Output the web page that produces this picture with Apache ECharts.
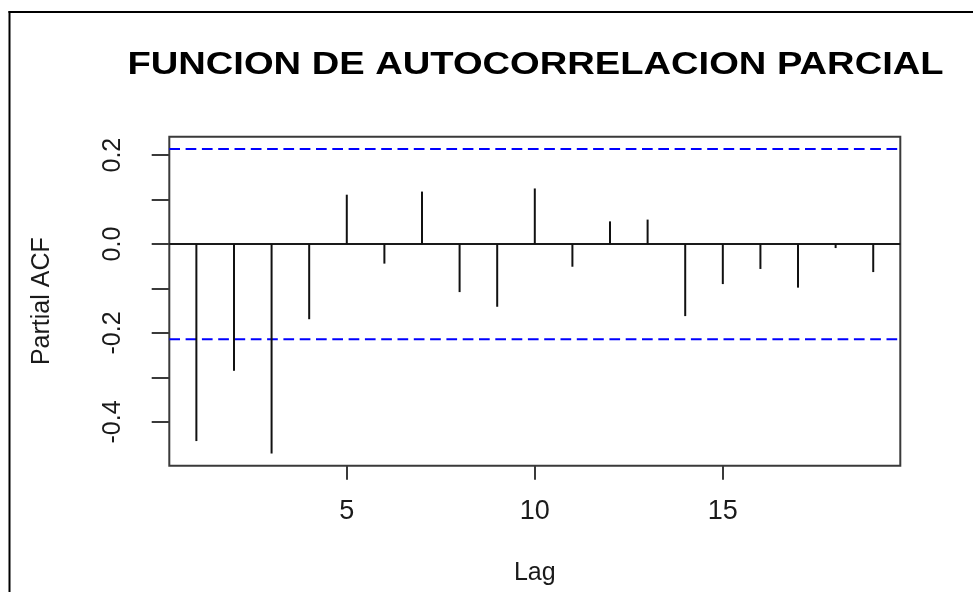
<!DOCTYPE html>
<html>
<head>
<meta charset="utf-8">
<script src="https://cdn.jsdelivr.net/npm/echarts@6/dist/echarts.min.js"></script>
<style>
html,body{margin:0;padding:0;background:#fff;}
#chart{width:973px;height:592px;}
</style>
</head>
<body>
<div id="chart"></div>
<script>
// ---- data ----
const titleText = 'FUNCION DE AUTOCORRELACION PARCIAL';
const xAxisTitle = 'Lag';
const yAxisTitle = 'Partial ACF';
const lags = [1,2,3,4,5,6,7,8,9,10,11,12,13,14,15,16,17,18,19];
const pacfValues = [-0.443,-0.285,-0.471,-0.169,0.111,-0.044,0.118,-0.108,-0.141,0.125,
                    -0.051,0.051,0.055,-0.162,-0.090,-0.056,-0.098,-0.009,-0.063];
const confLimit = 0.214;
const xTickValues = [5,10,15];
const yTickValues = [-0.4,-0.3,-0.2,-0.1,0,0.1,0.2];
const yLabelValues = [-0.4,-0.2,0,0.2];

// R-style axis ranges (data range extended by 4%)
const xLo = Math.min(...lags), xHi = Math.max(...lags);
const xMin = xLo - 0.04*(xHi-xLo), xMax = xHi + 0.04*(xHi-xLo);
const yLo = Math.min(-confLimit, ...pacfValues), yHi = Math.max(confLimit, ...pacfValues);
const yMin = yLo - 0.04*(yHi-yLo), yMax = yHi + 0.04*(yHi-yLo);

const spikeData = lags.map((l,i)=>[l, pacfValues[i]]);
const txt = '#1a1a1a';
const fam = 'Liberation Sans, Arial, sans-serif';

const chart = echarts.init(document.getElementById('chart'), null, {renderer:'canvas'});
chart.setOption({
  animation:false,
  backgroundColor:'#fff',
  graphic:[
    {type:'line', shape:{x1:9.5,y1:11,x2:9.5,y2:592}, style:{stroke:'#000',lineWidth:2}},
    {type:'line', shape:{x1:8.5,y1:12,x2:973,y2:12}, style:{stroke:'#000',lineWidth:2}},
    {type:'text', x:535.5, y:66, scaleX:1.25, scaleY:1,
     style:{text:titleText, fontSize:30.5, fontWeight:'bold', fontFamily:fam, fill:'#000',
            textAlign:'center', textVerticalAlign:'middle'}}
  ],
  grid:{left:169.3, right:72.7, top:136.7, bottom:126.3, show:true,
        borderColor:'#3a3a3a', borderWidth:2, containLabel:false},
  xAxis:{
    type:'value', min:xMin, max:xMax,
    name:xAxisTitle, nameLocation:'middle', nameGap:95,
    nameTextStyle:{fontSize:25, color:txt, fontFamily:fam},
    axisLine:{show:false, onZero:false},
    axisTick:{show:true, length:14, customValues:xTickValues, lineStyle:{color:'#3a3a3a', width:2}},
    axisLabel:{show:true, customValues:xTickValues, margin:32, fontSize:27, color:txt, fontFamily:fam},
    splitLine:{show:false}
  },
  yAxis:{
    type:'value', min:yMin, max:yMax,
    name:yAxisTitle, nameLocation:'middle', nameGap:115, nameRotate:90,
    nameTextStyle:{fontSize:25, color:txt, fontFamily:fam},
    axisLine:{show:false, onZero:false},
    axisTick:{show:true, length:17.6, customValues:yTickValues, lineStyle:{color:'#3a3a3a', width:2}},
    axisLabel:{show:true, customValues:yLabelValues, rotate:90, margin:44, fontSize:25, color:txt, fontFamily:fam,
               formatter:v=>{const r=Math.round(v*10)/10; return (r===0?0:r).toFixed(1);}},
    splitLine:{show:false}
  },
  series:[
    {type:'line', data:[[xMin,0],[xMax,0]], showSymbol:false, symbol:'none', silent:true,
     lineStyle:{color:'#1a1a1a', width:2}, z:3},
    {type:'line', data:[[xMin,confLimit],[xMax,confLimit]], showSymbol:false, symbol:'none', silent:true,
     lineStyle:{color:'#0000ff', width:2, type:[10.7,5.6]}, z:3},
    {type:'line', data:[[xMin,-confLimit],[xMax,-confLimit]], showSymbol:false, symbol:'none', silent:true,
     lineStyle:{color:'#0000ff', width:2, type:[10.7,5.6]}, z:3},
    {type:'custom', data:spikeData, encode:{x:0,y:1}, z:4,
     renderItem:function(params, api){
       const x = api.value(0), y = api.value(1);
       const p0 = api.coord([x,0]), p1 = api.coord([x,y]);
       return {type:'line', shape:{x1:p0[0],y1:p0[1],x2:p1[0],y2:p1[1]},
               style:{stroke:'#111', lineWidth:2}};
     }}
  ]
});
</script>
</body>
</html>
